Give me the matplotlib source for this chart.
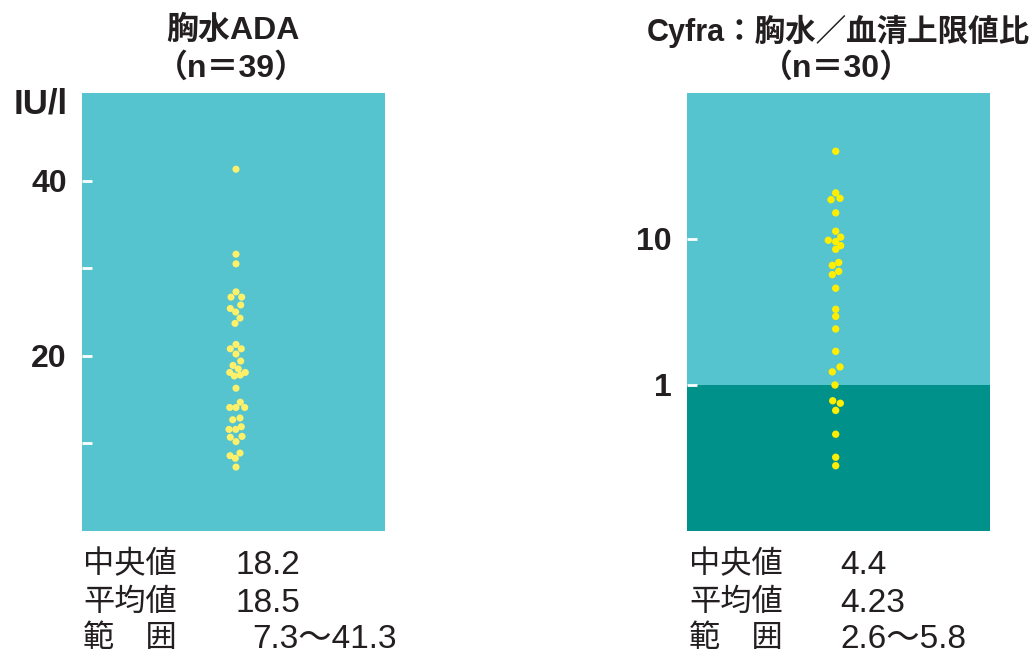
import matplotlib
matplotlib.use("Agg")
import matplotlib.pyplot as plt

plt.rcParams['font.family'] = ['Liberation Sans', 'Noto Sans CJK JP', 'DejaVu Sans']

# ---------------- data ----------------
ada_values = [41.3, 31.6, 30.5, 27.3, 26.7, 26.7, 25.8, 25.4, 25.0, 24.3, 23.7,
              21.3, 20.8, 20.8, 20.2, 19.4, 18.9, 18.5, 18.1, 18.1, 17.7, 17.8,
              16.3, 14.7, 14.1, 14.1, 14.1, 12.7, 12.9, 11.6, 11.6, 11.9, 10.7,
              10.8, 10.2, 8.6, 8.9, 8.3, 7.3]
ada_jitter = [2.5, 2.5, 2.5, 2.5, -2.5, 8.2, 7.2, -3.2, 2.2, 6.5, 1.5,
              2.5, -3.2, 7.8, 2.5, 7.2, -0.5, 4.8, -3.8, 11.8, 0.8, 6.8,
              2.5, 6.8, -3.8, 2.5, 11.2, -0.8, 6.5, -4.5, 2.2, 7.8, -3.2,
              8.5, 2.5, -3.5, 6.5, 1.8, 2.5]

cyfra_values = [39.9, 20.7, 18.6, 19.0, 15.1, 11.3, 9.8, 10.3, 9.6, 9.0, 8.5,
                6.6, 6.9, 5.7, 6.0, 4.6, 3.3, 2.95, 2.42, 1.70, 1.33, 1.23,
                1.0, 0.78, 0.75, 0.67, 0.46, 0.32, 0.28]
cyfra_jitter = [-2.8, -2.8, -7.5, 1.5, -2.8, -2.8, -10.2, 2.2, -2.8, 2.2, -2.8,
                -6.2, 0.2, -6.2, 0.2, -2.8, -2.8, -2.8, -2.8, -2.8, 1.5, -6.2,
                -3.5, -5.8, 1.8, -2.8, -2.8, -2.8, -2.8]

ada_ticks = [20, 40]
ada_minor = [10, 30]
cyfra_ticks = [1, 10]
cyfra_ticklabels = ['1', '10']
cyfra_cutoff = 1

left_title = ["胸水ADA", "（n＝39）"]
right_title = ["Cyfra：胸水／血清上限値比", "（n＝30）"]
unit_label = "IU/l"
stat_names = ["中央値", "平均値", "範　囲"]
ada_stats = ["18.2", "18.5", "7.3～41.3"]
cyfra_stats = ["4.4", "4.23", "2.6～5.8"]

# ---------------- style ----------------
LIGHT = '#55C4CE'
DARK = '#00918A'
TXT = '#231F20'
W, H = 1033, 653

fig = plt.figure(figsize=(W / 100, H / 100), dpi=100)

def fx(px):
    return px / W

def fy(py):
    return 1 - py / H

axL = fig.add_axes([fx(82), fy(531), fx(303), 438 / H])
axR = fig.add_axes([fx(687), fy(531), fx(303), 438 / H])

for ax in (axL, axR):
    ax.set_facecolor(LIGHT)
    for s in ax.spines.values():
        s.set_visible(False)
    ax.set_xlim(-151.5, 151.5)
    ax.set_xticks([])

# left panel
axL.set_ylim(0, 50)
axL.set_yticks(ada_ticks)
axL.set_yticks(ada_minor, minor=True)
axL.set_yticklabels([str(t) for t in ada_ticks], fontweight='bold', fontsize=23, color=TXT)
axL.scatter(ada_jitter, ada_values, s=26, color='#FFF06A', edgecolors='none', zorder=3)

# right panel
axR.set_yscale('log')
axR.set_ylim(0.1, 100)
axR.axhspan(0.1, cyfra_cutoff, color=DARK, zorder=0, lw=0)
axR.set_yticks(cyfra_ticks)
axR.set_yticklabels(cyfra_ticklabels, fontweight='bold', fontsize=23, color=TXT)
axR.yaxis.set_minor_locator(matplotlib.ticker.NullLocator())
axR.scatter(cyfra_jitter, cyfra_values, s=28, color='#FFEE00', edgecolors='none', zorder=3)

for ax in (axL, axR):
    ax.tick_params(axis='y', which='both', direction='in', colors='white',
                   length=7, width=2, pad=11, labelcolor=TXT)

# titles
fig.text(fx(233), fy(31), left_title[0], ha='center', va='center',
         fontsize=23, fontweight='bold', color=TXT)
fig.text(fx(231), fy(68), left_title[1], ha='center', va='center',
         fontsize=23, fontweight='bold', color=TXT)
fig.text(fx(838), fy(31), right_title[0], ha='center', va='center',
         fontsize=22, fontweight='bold', color=TXT)
fig.text(fx(836), fy(68), right_title[1], ha='center', va='center',
         fontsize=23, fontweight='bold', color=TXT)

fig.text(fx(68), fy(104), unit_label, ha='right', va='center',
         fontsize=25, fontweight='bold', color=TXT)

# stats
rows_y = [565, 603, 639]
for i, yy in enumerate(rows_y):
    fig.text(fx(83), fy(yy), stat_names[i], ha='left', va='center', fontsize=22.5, color=TXT)
    fig.text(fx(689), fy(yy), stat_names[i], ha='left', va='center', fontsize=22.5, color=TXT)
    fig.text(fx(236 if i < 2 else 252), fy(yy), ada_stats[i], ha='left', va='center',
             fontsize=24, color=TXT)
    fig.text(fx(840), fy(yy), cyfra_stats[i], ha='left', va='center', fontsize=24, color=TXT)

fig.savefig('out.png', dpi=100)
